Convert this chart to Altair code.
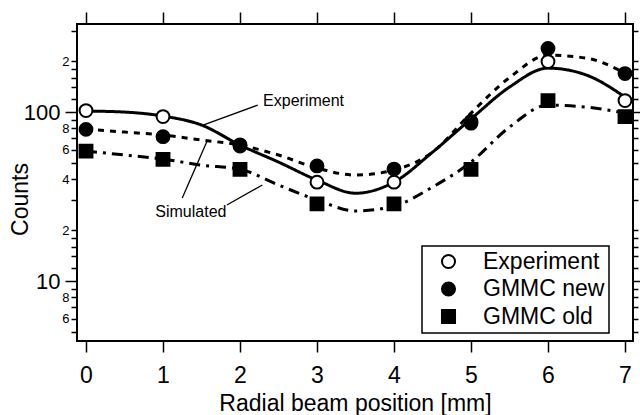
import altair as alt
import pandas as pd

# ---------------- data ----------------
X_POS = [0, 1, 2, 3, 4, 5, 6, 7]
EXPERIMENT = [102, 94, 63, 38.5, 38.5, 88, 199, 117]
GMMC_NEW = [79, 71.5, 64, 48, 46, 86, 238, 169]
GMMC_OLD = [58.8, 52.5, 45.8, 28.6, 28.6, 45.8, 117, 94]

FIT_X = [0, 0.5, 1, 1.5, 2, 2.5, 3, 3.5, 4, 4.5, 5, 5.5, 6, 6.5, 7]
FIT_EXPERIMENT = [101.4, 100, 94.7, 83.8, 63.8, 50.6, 39.6, 33.1, 38.5, 57.9, 91, 140.6, 182, 165.5, 122.7]
FIT_GMMC_NEW = [79.3, 76.1, 73.1, 68.3, 63.8, 55.7, 46.6, 42.4, 45.4, 57.9, 98.6, 160, 217, 208.6, 170]
FIT_GMMC_OLD = [58.8, 55.7, 52.7, 48.5, 45.9, 37.0, 30.2, 26.0, 27.8, 36.0, 50.6, 81.5, 110, 107, 98.6]

SERIES = ["Experiment", "GMMC new", "GMMC old"]
DASHES = [[1, 0], [6, 6], [11, 6, 3, 6]]

Y_TICKS = [5, 6, 7, 8, 9, 10, 12, 14, 16, 18, 20, 30, 40, 50, 60, 70, 80, 90,
           100, 120, 140, 160, 180, 200, 300]
Y_TICK_LABELS = ["", "6", "", "8", "", "10", "", "", "", "", "2", "", "4", "", "6", "", "8", "",
                 "100", "", "", "", "", "2", ""]

ANNOT_TEXT = ["Experiment", "Simulated"]
ANNOT_X = [2.30, 0.90]
ANNOT_Y = [116, 25.6]

LEADER_X1 = [2.23, 1.25, 1.83]
LEADER_X2 = [1.52, 1.57, 2.29]
LEADER_Y1 = [110, 31.0, 28.2]
LEADER_Y2 = [83.8, 67, 37.0]

# ---------------- tables ----------------
pts_rows = []
for name, vals in zip(SERIES, [EXPERIMENT, GMMC_NEW, GMMC_OLD]):
    for x, v in zip(X_POS, vals):
        pts_rows.append({"x": x, "y": v, "series": name})
pts = pd.DataFrame(pts_rows)

fit_tables = [pd.DataFrame({"x": FIT_X, "y": vals})
              for vals in [FIT_EXPERIMENT, FIT_GMMC_NEW, FIT_GMMC_OLD]]

annot = pd.DataFrame({"x": ANNOT_X, "y": ANNOT_Y, "text": ANNOT_TEXT})
leaders = pd.DataFrame({"x": LEADER_X1, "x2": LEADER_X2, "y": LEADER_Y1, "y2": LEADER_Y2})

FONT = "Liberation Sans"

x_scale = alt.Scale(domain=[-0.117, 7.104], nice=False, zero=False)
y_scale = alt.Scale(type="log", domain=[4.42, 332], nice=False)

label_expr = "".join(
    f"datum.value == {v} ? '{lab}' : " for v, lab in zip(Y_TICKS, Y_TICK_LABELS) if lab
) + "''"
major_test = "datum.value == 10 || datum.value == 100"

axis_bottom = alt.Axis(values=X_POS, format="d", tickSize=11, tickWidth=1.5,
                       labelFontSize=23, labelPadding=12, labelFlush=False,
                       title="Radial beam position [mm]", titleFontSize=23,
                       titleFontWeight="normal", titleY=69, titleBaseline="alphabetic",
                       grid=False, domain=False)
axis_top = alt.Axis(orient="top", values=X_POS, labels=False, tickSize=12, tickWidth=1.5,
                    title=None, grid=False, domain=False)
axis_left = alt.Axis(values=Y_TICKS, labelExpr=label_expr,
                     tickSize={"condition": {"test": major_test, "value": 12}, "value": 6},
                     labelFontSize={"condition": {"test": major_test, "value": 22}, "value": 13},
                     labelPadding={"condition": {"test": major_test, "value": 5}, "value": 2},
                     tickWidth=1.5, labelBaseline="middle", labelFlush=False,
                     title="Counts", titleFontSize=23, titleFontWeight="normal",
                     titleX=-50, titleY=175, titleBaseline="alphabetic", titleAngle=270,
                     grid=False, domain=False)
axis_right = alt.Axis(orient="right", values=Y_TICKS, labels=False,
                      tickSize={"condition": {"test": major_test, "value": 7}, "value": 5},
                      tickWidth=1.5, title=None, grid=False, domain=False)

curve_layers = []
for i, (tbl, dash) in enumerate(zip(fit_tables, DASHES)):
    curve_layers.append(
        alt.Chart(tbl).mark_line(color="black", strokeWidth=3, strokeDash=dash,
                                 interpolate="monotone").encode(
            x=alt.X("x:Q", scale=x_scale, axis=axis_bottom if i == 0 else None),
            y=alt.Y("y:Q", scale=y_scale, axis=axis_left if i == 0 else None),
        )
    )

rules = alt.Chart(leaders).mark_rule(color="black", strokeWidth=1.3).encode(
    x=alt.X("x:Q", scale=x_scale, axis=None),
    x2="x2:Q",
    y=alt.Y("y:Q", scale=y_scale, axis=None),
    y2="y2:Q",
)

texts = alt.Chart(annot).mark_text(align="left", baseline="middle", fontSize=16,
                                   font=FONT, color="black").encode(
    x=alt.X("x:Q", scale=x_scale, axis=None),
    y=alt.Y("y:Q", scale=y_scale, axis=None),
    text="text:N",
)

legend = alt.Legend(title=None, orient="none", legendX=345, legendY=222,
                    labelFontSize=23, labelFont=FONT, labelColor="black",
                    strokeColor="black", padding=4, rowPadding=3.5,
                    symbolSize=170, symbolStrokeWidth=2, symbolStrokeColor="black",
                    symbolOffset=11, labelOffset=23)

points = alt.Chart(pts).mark_point(filled=True, stroke="black", strokeWidth=2, opacity=1,
                                   size=165).encode(
    x=alt.X("x:Q", scale=x_scale, axis=axis_top),
    y=alt.Y("y:Q", scale=y_scale, axis=axis_right),
    fill=alt.Fill("series:N", scale=alt.Scale(domain=SERIES, range=["white", "black", "black"]),
                  legend=legend),
    shape=alt.Shape("series:N", scale=alt.Scale(domain=SERIES, range=["circle", "circle", "square"]),
                    legend=legend),
    stroke=alt.Stroke("series:N", scale=alt.Scale(domain=SERIES, range=["black", "black", "black"]),
                      legend=legend),
)

chart = alt.layer(*curve_layers, rules, texts, points).resolve_axis(
    x="independent", y="independent"
).properties(
    width=556, height=317,
    autosize=alt.AutoSizeParams(type="none"),
    padding={"left": 77, "top": 24, "right": 7, "bottom": 74},
    background="white",
).configure_view(
    stroke="black", strokeWidth=2
).configure_axis(
    labelFont=FONT, titleFont=FONT, labelColor="black", titleColor="black", tickColor="black"
).configure_legend(
    strokeWidth=1.5
)

chart.save("out.html", embed_options={"renderer": "svg", "actions": False})
